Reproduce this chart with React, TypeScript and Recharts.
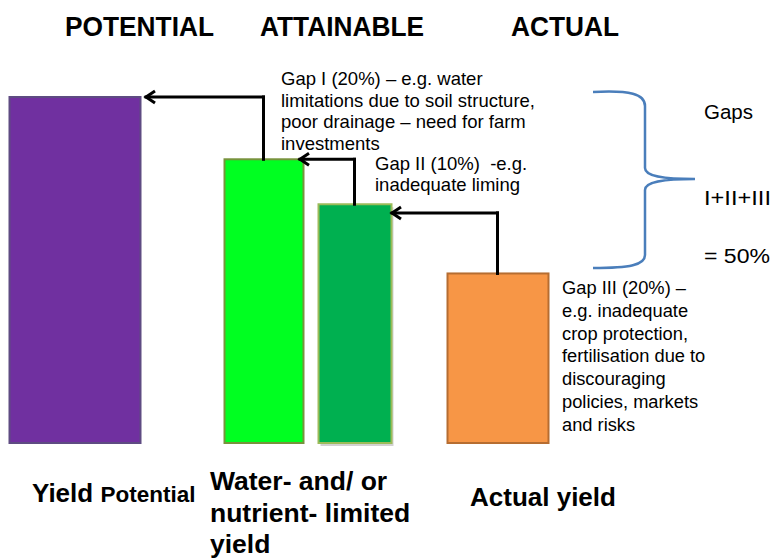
import { ComposedChart, Bar, XAxis, YAxis, ReferenceLine } from "recharts";

// values (yield as % of potential)
const categories = ["Yield Potential", "Water-limited yield", "Nutrient-limited yield", "Actual yield"];
const yieldShare = [100, 82, 69, 49];

const headings = ["POTENTIAL", "ATTAINABLE", "ACTUAL"];
const gapNotes = [
  ["Gap I (20%) – e.g. water", "limitations due to soil structure,", "poor drainage – need for farm", "investments"],
  ["Gap II (10%)  -e.g.", "inadequate liming"],
  ["Gap III (20%) –", "e.g. inadequate", "crop protection,", "fertilisation due to", "discouraging", "policies, markets", "and risks"],
];
const gapTotal = ["Gaps", "I+II+III", "= 50%"];
const attainableLabel = ["Water- and/ or", "nutrient- limited", "yield"];

// layout
const W = 774;
const H = 558;
const PLOT_TOP = 97;
const PLOT_BOTTOM = 443;
const barCenters = [74.5, 263.5, 354.5, 497.5];
const barWidths = [131, 79, 73, 101];
const barFills = ["#7030A0", "#00FF21", "#00B050", "#F79646"];
const barStrokes = ["#5E4B82", "#77933C", "#9BBB59", "#B66D31"];
const arrowTipGap = [6, -3, 1];
const arrowDrop = [0, 0, 2.5];

const FONT = "'Liberation Sans', Arial, sans-serif";

const data = categories.map((name, i) => ({ name, pos: barCenters[i], value: yieldShare[i], i }));

const BarShape = (p: any) => {
  const i = p.payload.i;
  const cx = p.x + p.width / 2;
  const w = barWidths[i];
  return (
    <g>
      {i === 2 && (
        <rect x={cx - w / 2 + 2} y={p.y + 3} width={w} height={p.height} fill="#000" opacity={0.18} />
      )}
      <rect
        x={cx - w / 2}
        y={p.y}
        width={w}
        height={p.height}
        fill={barFills[i]}
        stroke={barStrokes[i]}
        strokeWidth={2}
      />
    </g>
  );
};

const plainLine = (p: any) => (
  <line x1={p.x1} y1={p.y1} x2={p.x2} y2={p.y2} stroke="#000" strokeWidth={3} strokeLinecap="square" />
);

const arrowLine = (p: any) => (
  <g>
    <line x1={p.x1} y1={p.y1} x2={p.x2} y2={p.y2} stroke="#000" strokeWidth={3} strokeLinecap="square" />
    <polyline
      points={`${p.x2 + 9},${p.y2 - 6} ${p.x2},${p.y2} ${p.x2 + 9},${p.y2 + 6}`}
      fill="none"
      stroke="#000"
      strokeWidth={3}
    />
  </g>
);

export default function App() {
  return (
    <div style={{ position: "absolute", left: 0, top: 0, width: W, height: H, background: "#fff" }}>
      <ComposedChart
        width={W}
        height={H}
        data={data}
        margin={{ top: PLOT_TOP, right: 0, bottom: H - PLOT_BOTTOM, left: 0 }}
      >
        <XAxis type="number" dataKey="pos" domain={[0, W]} hide />
        <YAxis type="number" domain={[0, 100]} hide />
        <Bar dataKey="value" barSize={20} shape={BarShape} isAnimationActive={false} />
        {[0, 1, 2].map((i) => {
          const level = yieldShare[i] - arrowDrop[i];
          const from = barCenters[i + 1];
          return [
            <ReferenceLine
              key={`v${i}`}
              segment={[{ x: from, y: yieldShare[i + 1] }, { x: from, y: level }]}
              shape={plainLine}
              ifOverflow="visible"
            />,
            <ReferenceLine
              key={`h${i}`}
              segment={[{ x: from, y: level }, { x: barCenters[i] + barWidths[i] / 2 + arrowTipGap[i], y: level }]}
              shape={arrowLine}
              ifOverflow="visible"
            />,
          ];
        })}
      </ComposedChart>
      <svg
        width={W}
        height={H}
        style={{ position: "absolute", left: 0, top: 0, pointerEvents: "none" }}
        fontFamily={FONT}
      >
        <text x={65} y={35.5} fontSize={27} fontWeight="bold" textLength={149} lengthAdjust="spacingAndGlyphs">
          {headings[0]}
        </text>
        <text x={260} y={35.5} fontSize={27} fontWeight="bold" textLength={164} lengthAdjust="spacingAndGlyphs">
          {headings[1]}
        </text>
        <text x={511} y={35.5} fontSize={27} fontWeight="bold" textLength={108} lengthAdjust="spacingAndGlyphs">
          {headings[2]}
        </text>

        {gapNotes[0].map((t, k) => (
          <text key={t} x={281} y={85 + k * 21.5} fontSize={18.5}>
            {t}
          </text>
        ))}
        {gapNotes[1].map((t, k) => (
          <text key={t} x={375} y={170 + k * 21} fontSize={18.5} xmlSpace="preserve">
            {t}
          </text>
        ))}
        {gapNotes[2].map((t, k) => (
          <text key={t} x={562} y={294 + k * 22.8} fontSize={18.3}>
            {t}
          </text>
        ))}

        <path
          d="M593,92 C630,90 645,94 645,106 L645,168 C645,176 662,179 695,179 C662,179 645,182 645,190 L645,255 C645,265 630,268 593,268"
          fill="none"
          stroke="#4A7EBB"
          strokeWidth={2.5}
        />
        <text x={704} y={119} fontSize={20.5}>{gapTotal[0]}</text>
        <text x={704} y={205} fontSize={20} textLength={67} lengthAdjust="spacingAndGlyphs">{gapTotal[1]}</text>
        <text x={704} y={262.5} fontSize={20} textLength={66} lengthAdjust="spacingAndGlyphs">{gapTotal[2]}</text>

        <text x={32} y={502} fontWeight="bold">
          <tspan fontSize={26}>Yield </tspan>
          <tspan fontSize={22.5}>Potential</tspan>
        </text>
        {attainableLabel.map((t, k) => (
          <text key={t} x={210} y={490 + k * 31.5} fontSize={26.5} fontWeight="bold">
            {t}
          </text>
        ))}
        <text x={470} y={506} fontSize={26} fontWeight="bold">
          {categories[3]}
        </text>
      </svg>
    </div>
  );
}
